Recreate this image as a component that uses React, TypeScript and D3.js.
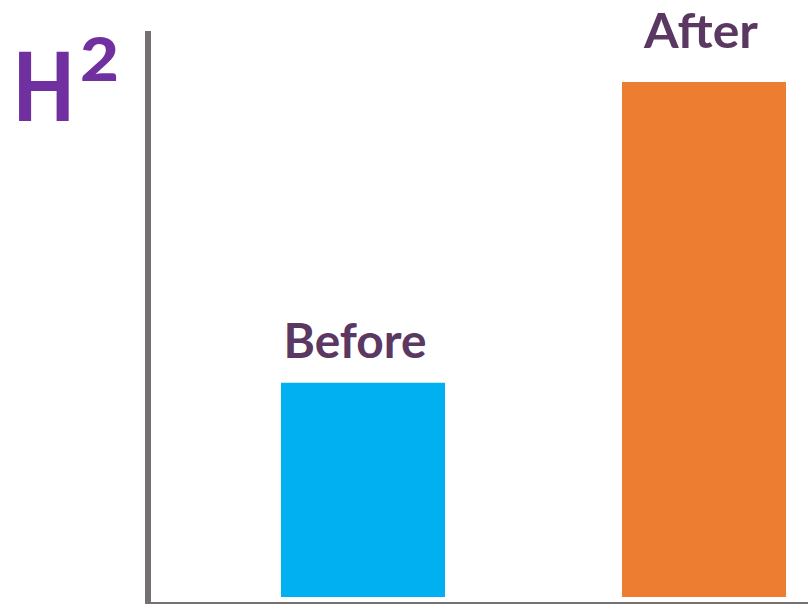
import React from "react";
import * as d3 from "d3";

const categories = ["Before", "After"];
const values = [41.6, 100];
const colors = ["#00B0F0", "#ED7D31"];
const labelGap = [25, 34];
const axisTitle = "H";
const axisTitleSup = "2";

const W = 808;
const H = 604;

export default function App() {
  const x = d3.scaleBand<string>().domain(categories).range([281, 786]).paddingInner(0.519).paddingOuter(0);
  const y = d3.scaleLinear().domain([0, 100]).range([597, 82]);
  const font = "Lato, 'Open Sans', sans-serif";
  return (
    <svg width={W} height={H} style={{ position: "absolute", left: 0, top: 0, background: "#fff" }}>
      {categories.map((c, i) => (
        <g key={c}>
          <rect x={x(c)} y={y(values[i])} width={x.bandwidth()} height={y(0) - y(values[i])} fill={colors[i]} />
          <text
            x={x(c)! + x.bandwidth() / 2 - (i === 0 ? 8 : 3)}
            y={y(values[i]) - labelGap[i]}
            textAnchor="middle"
            fontFamily={font}
            fontWeight={700}
            fontSize={48}
            fill="#5B3862"
            textLength={i === 0 ? 143 : 114}
            lengthAdjust="spacingAndGlyphs"
          >
            {c}
          </text>
        </g>
      ))}
      <line x1={148} x2={148} y1={31} y2={604} stroke="#767171" strokeWidth={6} />
      <line x1={151} x2={808} y1={603} y2={603} stroke="#767171" strokeWidth={2} />
      <text transform="translate(13,121) scale(0.95,1.13)" fontFamily={font} fontWeight={900} fontSize={84} fill="#7030A0">
        {axisTitle}
      </text>
      <text transform="translate(80,81) scale(1.1,1)" fontFamily={font} fontWeight={900} fontSize={61} fill="#7030A0">
        {axisTitleSup}
      </text>
    </svg>
  );
}
